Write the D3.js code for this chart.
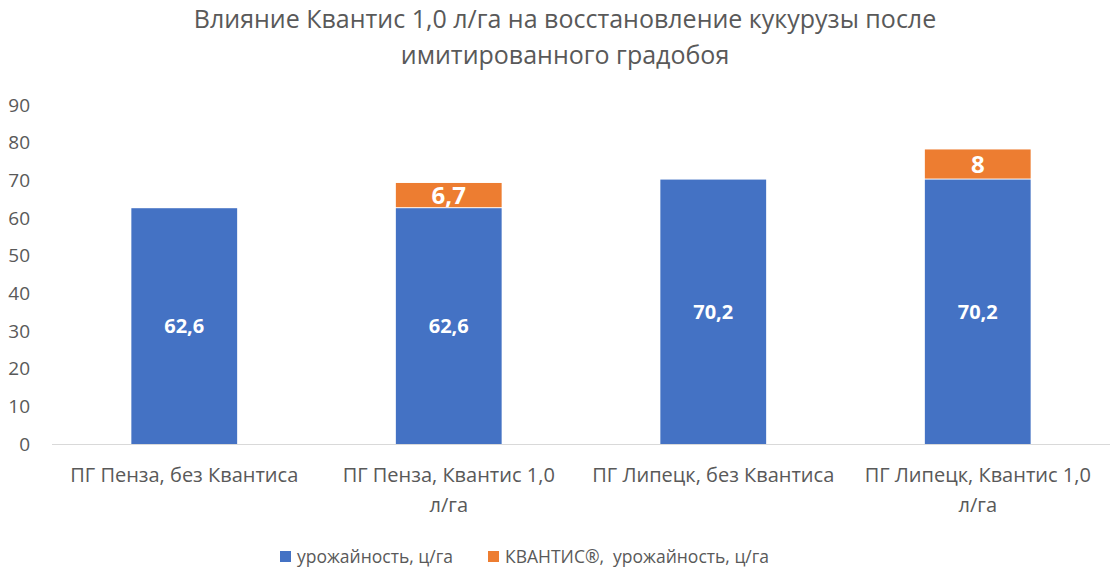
<!DOCTYPE html>
<html>
<head>
<meta charset="utf-8">
<script src="https://cdn.jsdelivr.net/npm/d3@7"></script>
<style>
  body { margin: 0; background: #fff; }
  text { font-family: "Open Sans", "Noto Sans", sans-serif; }
</style>
</head>
<body>
<script>
var categories = [
    ["ПГ Пенза, без Квантиса"],
    ["ПГ Пенза, Квантис 1,0", "л/га"],
    ["ПГ Липецк, без Квантиса"],
    ["ПГ Липецк, Квантис 1,0", "л/га"]
];
var yieldValues = [62.6, 62.6, 70.2, 70.2];
var kvantisValues = [null, 6.7, null, 8];
var yTicks = [0, 10, 20, 30, 40, 50, 60, 70, 80, 90];
var seriesNames = ["урожайность, ц/га", "КВАНТИС®,  урожайность, ц/га"];
var colors = ["#4472c4", "#ed7d31"];

var w = 1120, h = 577;
var plotLeft = 52, plotRight = 1110, plotTop = 105, plotBottom = 444;

var svg = d3.select("body").append("svg").attr("width", w).attr("height", h);

// title
svg.append("text").attr("x", 565).attr("y", 28).attr("text-anchor", "middle")
    .attr("font-size", "25px").attr("fill", "#595959")
    .text("Влияние Квантис 1,0 л/га на восстановление кукурузы после");
svg.append("text").attr("x", 565).attr("y", 64).attr("text-anchor", "middle")
    .attr("font-size", "25px").attr("fill", "#595959")
    .text("имитированного градобоя");

var x = d3.scaleBand()
    .domain(d3.range(categories.length))
    .range([plotLeft, plotRight])
    .paddingInner(0.6)
    .paddingOuter(0.3);

var y = d3.scaleLinear().domain([0, 90]).range([plotBottom, plotTop]);

// y axis labels
var yAxis = svg.append("g").attr("transform", "translate(30,0)")
    .call(d3.axisLeft(y).tickValues(yTicks).tickSize(0).tickPadding(0));
yAxis.select(".domain").remove();
yAxis.selectAll("text").attr("font-size", "19px").attr("fill", "#595959")
    .attr("font-family", "'Open Sans', 'Noto Sans', sans-serif");

// baseline
svg.append("line").attr("x1", plotLeft).attr("x2", plotRight)
    .attr("y1", y(0) + 0.5).attr("y2", y(0) + 0.5)
    .attr("stroke", "#d9d9d9").attr("stroke-width", 1);

// bars
var stacked = categories.map(function (c, i) {
    return { i: i, a: yieldValues[i], b: kvantisValues[i] };
});

svg.selectAll("rect.yield")
    .data(stacked)
    .enter()
    .append("rect")
    .attr("class", "yield")
    .attr("x", function (d) { return x(d.i); })
    .attr("width", x.bandwidth())
    .attr("y", function (d) { return y(d.a); })
    .attr("height", function (d) { return y(0) - y(d.a); })
    .attr("fill", colors[0]);

svg.selectAll("rect.kv")
    .data(stacked.filter(function (d) { return d.b != null; }))
    .enter()
    .append("rect")
    .attr("class", "kv")
    .attr("x", function (d) { return x(d.i); })
    .attr("width", x.bandwidth())
    .attr("y", function (d) { return y(d.a + d.b); })
    .attr("height", function (d) { return y(d.a) - y(d.a + d.b) - 1; })
    .attr("fill", colors[1]);

// data labels
function fmt(v) { return String(v).replace(".", ","); }

svg.selectAll("text.lblA")
    .data(stacked)
    .enter()
    .append("text")
    .attr("class", "lblA")
    .attr("x", function (d) { return x(d.i) + x.bandwidth() / 2; })
    .attr("y", function (d) { return y(d.a / 2); })
    .attr("dy", "0.35em")
    .attr("text-anchor", "middle")
    .attr("font-size", "20px").attr("font-weight", "bold").attr("fill", "#fff")
    .text(function (d) { return fmt(d.a); });

svg.selectAll("text.lblB")
    .data(stacked.filter(function (d) { return d.b != null; }))
    .enter()
    .append("text")
    .attr("class", "lblB")
    .attr("x", function (d) { return x(d.i) + x.bandwidth() / 2; })
    .attr("y", function (d) { return y(d.a + d.b / 2); })
    .attr("dy", "0.35em")
    .attr("text-anchor", "middle")
    .attr("font-size", "24px").attr("font-weight", "bold").attr("fill", "#fff")
    .text(function (d) { return fmt(d.b); });

// category labels
categories.forEach(function (lines, i) {
    lines.forEach(function (s, k) {
        svg.append("text")
            .attr("x", x(i) + x.bandwidth() / 2)
            .attr("y", 482 + k * 30)
            .attr("text-anchor", "middle")
            .attr("font-size", "20px").attr("fill", "#595959")
            .text(s);
    });
});

// legend
var legendX = [280, 488];
seriesNames.forEach(function (s, i) {
    svg.append("rect").attr("x", legendX[i]).attr("y", 551)
        .attr("width", 11).attr("height", 11).attr("fill", colors[i]);
    svg.append("text").attr("x", legendX[i] + 17).attr("y", 563)
        .attr("font-size", "17.5px").attr("fill", "#595959")
        .attr("xml:space", "preserve")
        .text(s);
});
</script>
</body>
</html>
